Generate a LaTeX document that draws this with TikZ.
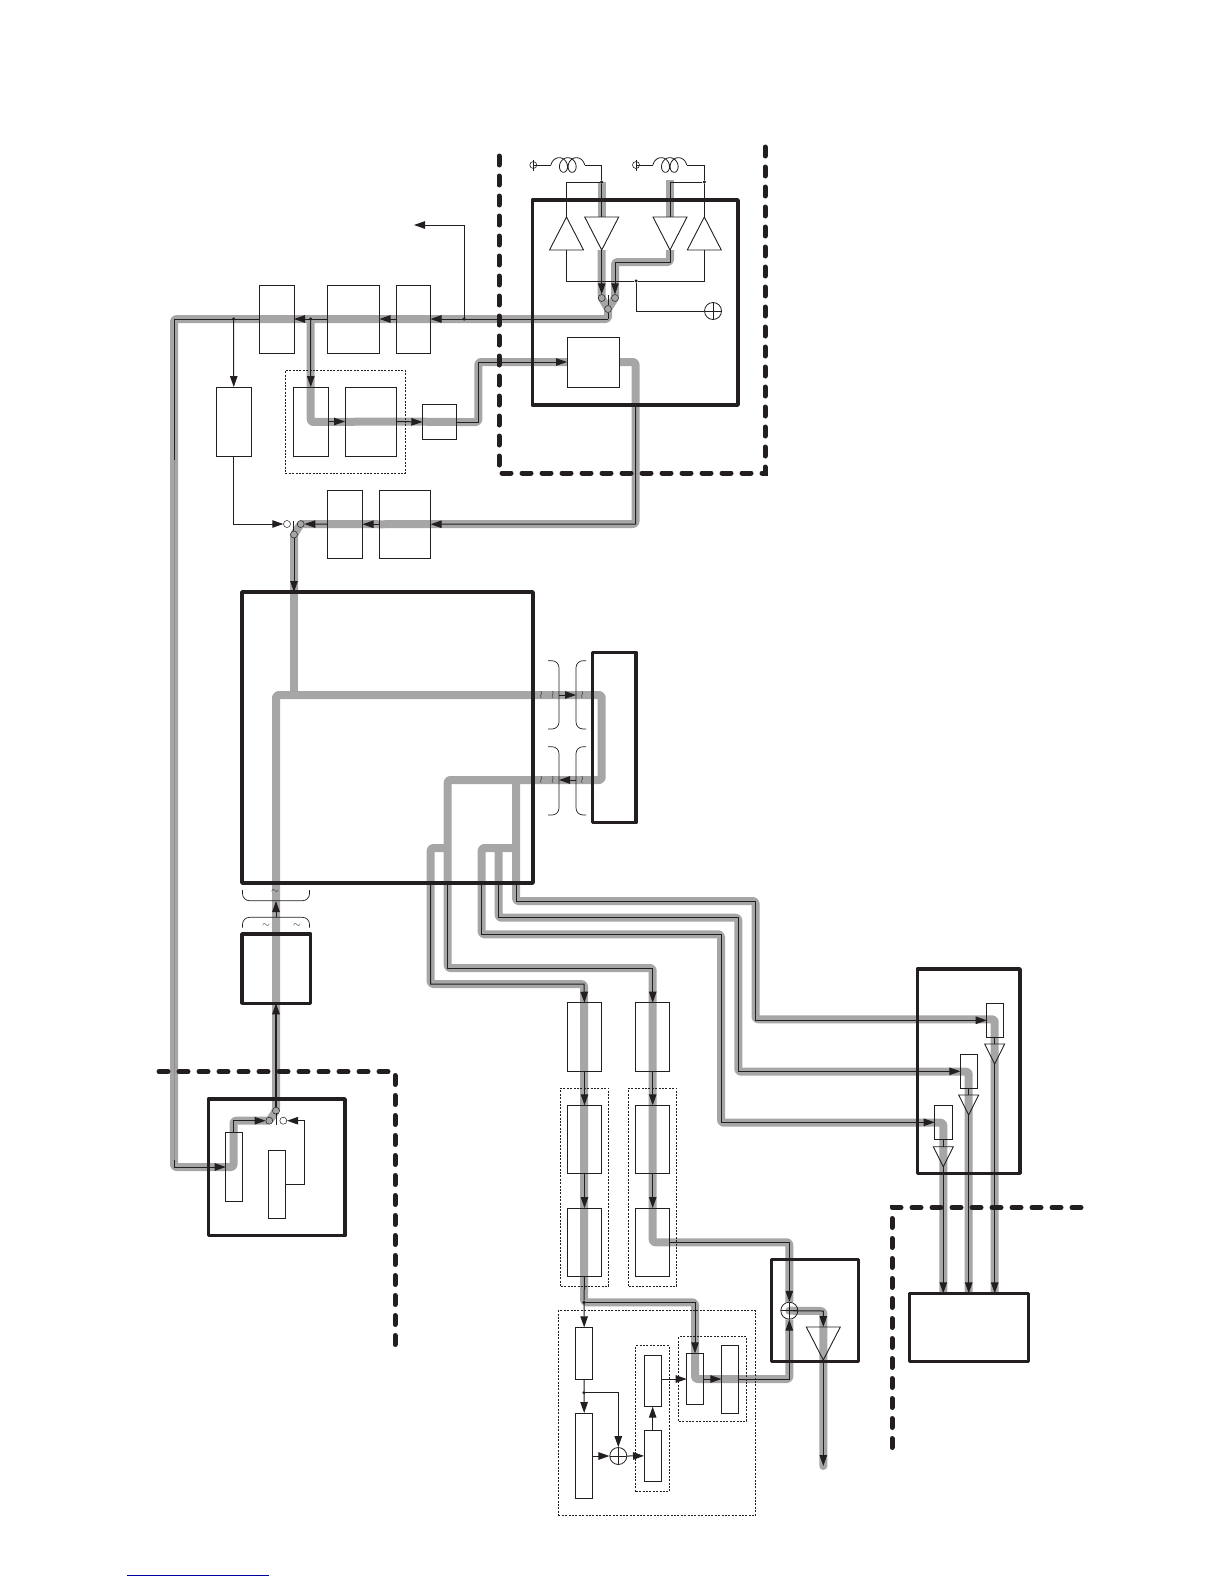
\documentclass[tikz,border=0pt]{standalone}
\usetikzlibrary{arrows.meta,shapes.geometric,backgrounds}
\definecolor{bandc}{RGB}{166,166,166}
\definecolor{inkc}{RGB}{35,31,32}
\definecolor{rulec}{RGB}{0,0,160}
\tikzset{
  blk/.style={draw=inkc, line width=1pt, inner sep=0pt, outer sep=0pt},
  heavy/.style={blk, line width=3.5pt, line join=round},
  group/.style={blk, line width=0.7pt, dash pattern=on 2pt off 1.4pt},
  band/.style={draw=bandc, line width=8pt, rounded corners=2.5pt, line join=round},
  wire/.style={draw=inkc, line width=1pt},
  flow/.style={wire, -{Triangle[length=11pt,width=7.5pt]}},
  zone/.style={draw=inkc, line width=5pt, dash pattern=on 9pt off 11pt, line cap=round},
  dot/.style={circle, fill=inkc, inner sep=0pt, minimum size=3.5pt},
  swon/.style={circle, draw=inkc, line width=0.5pt, fill=bandc, inner sep=0pt, minimum size=7pt},
  swoff/.style={swon, fill=white},
  sumc/.style={circle, draw=inkc, line width=0.8pt, inner sep=0pt, minimum size=17pt, path picture={
    \draw[inkc, line width=0.6pt] (path picture bounding box.north) -- (path picture bounding box.south)
      (path picture bounding box.west) -- (path picture bounding box.east);}},
  term/.style={circle, draw=inkc, line width=0.6pt, inner sep=0pt, minimum size=7pt},
  coilw/.style={draw=inkc, line width=0.8pt},
  tdn/.style={isosceles triangle, isosceles triangle stretches, shape border rotate=-90, draw=inkc, line width=0.9pt, inner sep=0pt, outer sep=0pt, minimum width=34pt, minimum height=33pt},
  tup/.style={tdn, shape border rotate=90},
  brc/.style={draw=inkc, line width=0.7pt, rounded corners=7pt},
  sym/.style={inner sep=0pt, text=inkc}
}
\begin{document}
\begin{tikzpicture}[x=1pt,y=-1pt]
  \useasboundingbox (0,0) rectangle (1224,1584);

  \newcommand{\blkn}[6][blk]{
    \pgfmathsetmacro\bw{#5-#3}\pgfmathsetmacro\bh{#6-#4}
    \node[#1, minimum width=\bw pt, minimum height=\bh pt, anchor=north west] (#2) at (#3,#4) {};
  }
  \newcommand{\coilp}[2]{
    \draw[coilw] plot[domain=-90:810, samples=160, smooth] ({#1+6+0.024*(\x+90)+6*sin(\x)},{#2-7.3*cos(\x)});
  }

  % zones
  \draw[zone] (765,147) -- (765,473) -- (499,473) -- (499,147);
  \draw[zone] (159,1071.5) -- (395,1071.5) -- (395,1345);
  \draw[zone] (1081,1207.5) -- (892,1207.5) -- (892,1448);

  % power amp block
  \blkn[heavy]{amp}{532.3}{200}{738}{405}
  \blkn{upc}{567}{337}{619}{387}
  \node[tdn, fill=white, anchor=apex] (pa1) at (601.7,250) {};
  \node[tdn, fill=white, anchor=apex] (pa2) at (670,250) {};
  \node[tup, fill=white, anchor=apex] (lna1) at (566.5,217) {};
  \node[tup, fill=white, anchor=apex] (lna2) at (704.3,217) {};
  \node[term] (ant1) at (533.3,165) {};
  \node[term] (ant2) at (636,165) {};
  \draw[wire] (ant1.center) ++(0,-5.5) -- ++(0,11);
  \draw[wire] (ant2.center) ++(0,-5.5) -- ++(0,11);
  \node[dot] (ja1) at (601.7,182) {};
  \node[dot] (ja2) at (704.3,182) {};
  \node[dot] (jb) at (636,281) {};
  \node[sumc] (bias) at (713,311) {};
  \node[swon] (sw1) at (601.7,298) {};
  \node[swon] (sw2) at (615,298) {};
  \node[swon] (sw3) at (608,309) {};
  \draw[wire] (608,295) -- (608,305);
  \coordinate (c1a) at (551,165);
  \coordinate (c1b) at (584.6,165);
  \coordinate (c2a) at (653,165);
  \coordinate (c2b) at (686.6,165);
  \draw[wire] (ant1.center) -- (c1a);
  \draw[wire] (ant2.center) -- (c2a);
  \coilp{551}{165}
  \coilp{653}{165}
  \draw[wire] (c1b) -| (ja1);
  \draw[wire] (c2b) -| (ja2);
  \draw[wire] (ja2) -- (lna2.apex);
  \draw[wire] (ja2) -- (670,182) -- (pa2.lower side);
  \draw[wire] (ja1) -- (pa1.lower side);
  \draw[wire] (ja1) -- (566.5,182) -- (lna1.apex);
  \draw[wire] (lna1.lower side) |- (jb) -| (lna2.lower side);
  \draw[wire] (jb) |- (bias.west);
  \draw[flow] (pa1.apex) -- (sw1.north);
  \draw[flow] (pa2.apex) -- (670,262) -- (615,262) -- (sw2.north);

  % tx and rx chains
  \blkn{fa}{259}{285}{294}{353}
  \blkn{fb}{327.5}{285}{379.5}{353}
  \blkn{fc}{396.5}{285}{430.5}{353}
  \blkn{fd}{216.5}{387}{251}{456}
  \blkn[group]{fbk}{285.3}{370.3}{405}{473.3}
  \blkn{fg}{293.5}{387}{328}{456}
  \blkn{fh}{345}{387}{396.7}{456}
  \blkn{fi}{422.3}{404.5}{456.3}{439.5}
  \blkn{fe}{327.5}{490}{362.5}{558.5}
  \blkn{ff}{379}{490}{430.7}{558.5}
  \node[dot] (jt1) at (464,319) {};
  \node[dot] (jt2) at (310.7,319) {};
  \node[dot] (jt3) at (233.7,319) {};
  \coordinate (tapend) at (414,225);
  \coordinate (cr) at (608,319);
  \coordinate (cul) at (174,319);
  \coordinate (cmd) at (174,460);
  \coordinate (cll) at (174,1167);
  \node[swoff] (sw4) at (287,524) {};
  \node[swon] (sw5) at (300.7,524) {};
  \node[swon] (sw6) at (294,534.5) {};
  \draw[wire] (293.5,520.5) -- (293.5,531);
  \draw[wire] (sw3.south) -- (cr);
  \draw[flow] (cr) -- (fc.east);
  \draw[flow] (fc.west) -- (fb.east);
  \draw[flow] (fb.west) -- (fa.east);
  \draw[flow] (jt1.center) |- (tapend);
  \draw[flow] (jt2.center) -- (fg.north);
  \draw[flow] (jt3.center) -- (fd.north);
  \draw[flow] (fg.east) -- (fh.west);
  \draw[flow] (fh.east) -- (fi.west);
  \coordinate (ib1) at (478.3,422);
  \coordinate (ib2) at (478.3,362);
  \draw[flow] (fi.east) -- (ib1) -- (ib2) -- (upc.west);
  \coordinate (ob1) at (635.5,362);
  \coordinate (ob2) at (635.5,405);
  \coordinate (ob3) at (635.5,524);
  \draw[flow] (ob2) -- (ob3) -- (ff.east);
  \draw[flow] (ff.west) -- (fe.east);
  \draw[flow] (fe.west) -- (sw5.east);
  \draw[flow] (fd.south) |- (sw4.west);

  % main block and its neighbours
  \blkn[heavy]{main}{242}{592}{533}{883}
  \blkn[heavy]{mem}{592.7}{652.3}{636}{822.7}
  \blkn[heavy]{xo}{242}{934}{310.7}{1003.3}
  \coordinate (jm) at (276,917);
  \coordinate (jmt) at (276,901);
  \draw[flow] (sw6.south) -- (294,592);
  \draw[flow] (jm) -- (jmt);
  \draw[brc] (242.5,890) -- (242.5,900.7) -- (309.5,900.7) -- (309.5,890);
  \draw[brc] (242.5,927.6) -- (242.5,917.3) -- (309.5,917.3) -- (309.5,927.6);
  \node[sym] (tl1) at (275,892) {$\sim$};
  \node[sym] (tl2) at (266,926) {$\sim$};
  \node[sym] (tl3) at (297,926) {$\sim$};
  \draw[brc] (548,660.7) -- (559,660.7) -- (559,729) -- (548,729);
  \draw[brc] (586,660.7) -- (576,660.7) -- (576,729) -- (586,729);
  \draw[brc] (548,746.7) -- (559,746.7) -- (559,815) -- (548,815);
  \draw[brc] (586,746.7) -- (576,746.7) -- (576,815) -- (586,815);
  \coordinate (bw1) at (559,695);
  \coordinate (bw2) at (576,695);
  \coordinate (bw3) at (576,780);
  \coordinate (bw4) at (559,780);
  \draw[flow] (bw1) -- (bw2);
  \draw[flow] (bw3) -- (bw4);
  \foreach \sx/\sy/\sn in {541.3/695/a, 552.7/695/b, 582.3/695/c, 541.3/780/d, 552.7/780/e, 582.3/780/f}
    \node[sym] (wr\sn) at (\sx,\sy) {$\wr$};

  % transmitter chains
  \blkn{ga}{567.3}{1002.7}{601.7}{1071.3}
  \blkn{gb}{635.7}{1002.7}{669.7}{1071.3}
  \blkn[group]{gl}{560.7}{1088.3}{608.7}{1286}
  \blkn[group]{gr}{628.7}{1088.3}{676.7}{1286}
  \blkn{gc}{567.3}{1105.3}{601.7}{1173.3}
  \blkn{gd}{635.7}{1105.3}{669.7}{1173.3}
  \blkn{ge}{567.3}{1208}{601.7}{1276.7}
  \blkn{gf}{635.7}{1208}{669.7}{1276.7}
  \draw[flow] (ga.south) -- (gc.north);
  \draw[flow] (gc.south) -- (ge.north);
  \draw[flow] (gb.south) -- (gd.north);
  \draw[flow] (gd.south) -- (gf.north);

  \coordinate (ch1) at (430.7,883);
  \coordinate (ch2) at (447.7,883);
  \coordinate (ch3) at (481.7,883);
  \coordinate (ch4) at (498.7,883);
  \coordinate (ch5) at (516,883);
  \draw[flow] (ch1) |- (584,984) -- (ga.north);
  \draw[flow] (ch2) |- (652.7,968) -- (gb.north);

  % rf out
  \blkn[heavy]{pam}{771.7}{1259.3}{858.3}{1361.7}
  \node[sumc] (sumo) at (789.3,1310.7) {};
  \node[tdn, anchor=apex] (pa3) at (823.3,1360) {};
  \coordinate (rfout) at (823.3,1466);
  \coordinate (ge1) at (789.3,1242.3);
  \draw[flow] (gf.east |- ge1) -- (ge1) -- (sumo.north);
  \draw[flow] (sumo.center) -- (823.3,1311) -- (pa3.lower side);
  \draw[flow] (pa3.apex) -- (rfout);

  % feedback block
  \blkn[group]{big}{558.3}{1310.7}{755.3}{1515.7}
  \blkn[group]{gm}{635.7}{1345.7}{669.3}{1491.7}
  \blkn[group]{gn}{678.7}{1336.7}{746.7}{1421.3}
  \blkn{ha}{575.7}{1327.3}{592.7}{1379.3}
  \blkn{hb}{575.7}{1413}{592.7}{1498.3}
  \blkn{hc}{644}{1355}{661.3}{1406.7}
  \blkn{hd}{644}{1430}{661.3}{1481.7}
  \blkn{he}{686.7}{1353.3}{703.3}{1404.3}
  \blkn{hf}{721.3}{1345}{738.7}{1413.3}
  \node[dot] (jh1) at (584,1302.3) {};
  \node[dot] (jh2) at (584,1392.7) {};
  \node[sumc] (sumh) at (618.3,1456) {};
  \coordinate (he1) at (695,1302.3);
  \coordinate (he2) at (789.3,1379);
  \draw[wire] (ge.south) -- (jh1);
  \draw[flow] (jh1.center) -- (he1) -- (he.north);
  \draw[flow] (jh1.center) -- (ha.north);
  \draw[wire] (ha.south) -- (jh2);
  \draw[flow] (jh2.center) -- (hb.north);
  \draw[flow] (jh2.center) -| (sumh.north);
  \draw[flow] (hb.east |- sumh) -- (sumh.west);
  \draw[flow] (sumh.east) -- (hd.west);
  \draw[flow] (hd.north) -- (hc.south);
  \draw[flow] (hc.east |- he2) -- (he.west |- he2);
  \draw[flow] (he.east |- he2) -- (hf.west |- he2);
  \draw[flow] (hf.east |- he2) -- (he2) -- (sumo.south);

  % i/q block
  \blkn[heavy]{iq}{917.3}{969}{1020}{1173.3}
  \blkn{ia}{986.7}{1003.3}{1003.3}{1037.3}
  \blkn{ib}{960.3}{1054.3}{977.7}{1088.3}
  \blkn{ic}{934.7}{1105.3}{952}{1139.3}
  \node[tdn, minimum width=20pt, minimum height=20pt, anchor=apex] (ta) at (994.7,1064) {};
  \node[tdn, minimum width=20pt, minimum height=20pt, anchor=apex] (tb) at (968.7,1115) {};
  \node[tdn, minimum width=20pt, minimum height=20pt, anchor=apex] (tc) at (943.3,1166.7) {};
  \blkn[heavy]{rx}{909.3}{1293.3}{1028.7}{1361.7}
  \draw[flow] (ch5) |- (755.5,901) |- (ia.west);
  \draw[flow] (ch4) |- (738.3,917.7) |- (ib.west);
  \draw[flow] (ch3) |- (721,934.3) |- (ic.west);
  \draw[wire] (ia.south -| ta.apex) -- (ta.lower side);
  \draw[wire] (ib.south -| tb.apex) -- (tb.lower side);
  \draw[wire] (ic.south -| tc.apex) -- (tc.lower side);
  \draw[flow] (ta.apex) -- (ta.apex |- rx.north);
  \draw[flow] (tb.apex) -- (tb.apex |- rx.north);
  \draw[flow] (tc.apex) -- (tc.apex |- rx.north);

  % rf in block
  \blkn[heavy]{sy}{208.3}{1099}{345}{1235.7}
  \blkn{sa}{225.7}{1132.7}{242.3}{1201}
  \blkn{sb}{268}{1150}{285.3}{1218.3}
  \node[swon] (sw7) at (269.3,1120.7) {};
  \node[swoff] (sw8) at (283.3,1120.7) {};
  \node[swon] (sw9) at (276,1110.7) {};
  \draw[wire] (276,1113) -- (276,1125);
  \draw[flow, line width=1.4pt] (sw9.north) -- (xo.south -| sw9);
  \coordinate (sa1) at (233.5,1120.7);
  \coordinate (sb1) at (304.7,1184.7);
  \coordinate (sb2) at (304.7,1120.7);
  \draw[flow] (sa.north -| sa1) -- (sa1) -- (sw7.west);
  \draw[flow] (sb.east |- sb1) -- (sb1) -- (sb2) -- (sw8.east);
  \draw[wire] (fa.west) -- (cul) -- (cmd);
  \draw[wire, draw=inkc!50] (cmd) -- (174,1160);
  \draw[wire] (174,1160) -- (cll);
  \draw[flow] (cll) -- (sa.west |- cll);

  % blue rule at the foot
  \coordinate (fr1) at (127.3,1575);
  \coordinate (fr2) at (268.7,1575);
  \draw[rulec, line width=1pt] (fr1) -- (fr2);

  \begin{pgfonlayer}{background}
    \draw[band] (ja1.center) -- (pa1.lower side);
    \draw[band] (670,180) -- (pa2.lower side);
    \draw[band] (pa1.apex) -- (sw1.center) -- (sw3.center) -- (sw2.center) -- (615,262) -- (670,262) -- (pa2.apex);
    \draw[band] (sw3.center) -- (cr) -- (cul) -- (cll) -- (sa1 |- cll) -- (sa1) -- (sw7.center) -- (sw9.center) -- (276,695) -- (bw2) -- (601.7,695) -- (601.7,780) -- (447.7,780) -- (ch2) -- (447.7,968) -- (652.7,968) -- (652.7,1242.3) -- (ge1) -- (sumo.north);
    \draw[band] (294,592) -- (sw6.center) -- (sw5.center) -- (ff.west) -- (ob3) -- (ob1) -- (upc.east);
    \draw[band] (294,592) -- (294,695);
    \draw[band] (jt2.center) -- (310.7,422) -- (fh.east) -- (fi.east) -- (ib1) -- (ib2) -- (upc.west);
    \draw[band] (447.7,848) -- (430.7,848) -- (ch1) -- (430.7,984) -- (584,984) -- (jh1.center) -- (he1) -- (695,1379) -- (he2) -- (sumo.south);
    \draw[band] (516,780) -- (ch5) -- (516,901) -- (755.5,901) -- (755.5,1019.3) -- (994.7,1019.3) -- (994.7,1293);
    \draw[band] (516,848) -- (481.7,848) -- (ch3) -- (481.7,934.3) -- (721,934.3) -- (721,1122.7) -- (943.3,1122.7) -- (943.3,1293);
    \draw[band] (498.7,848) -- (ch4) -- (498.7,917.7) -- (738.3,917.7) -- (738.3,1071.7) -- (968.7,1071.7) -- (968.7,1293);
    \draw[band, line cap=round] (sumo.center) -- (823.3,1311) -- (rfout);
  \end{pgfonlayer}
\end{tikzpicture}
\end{document}
